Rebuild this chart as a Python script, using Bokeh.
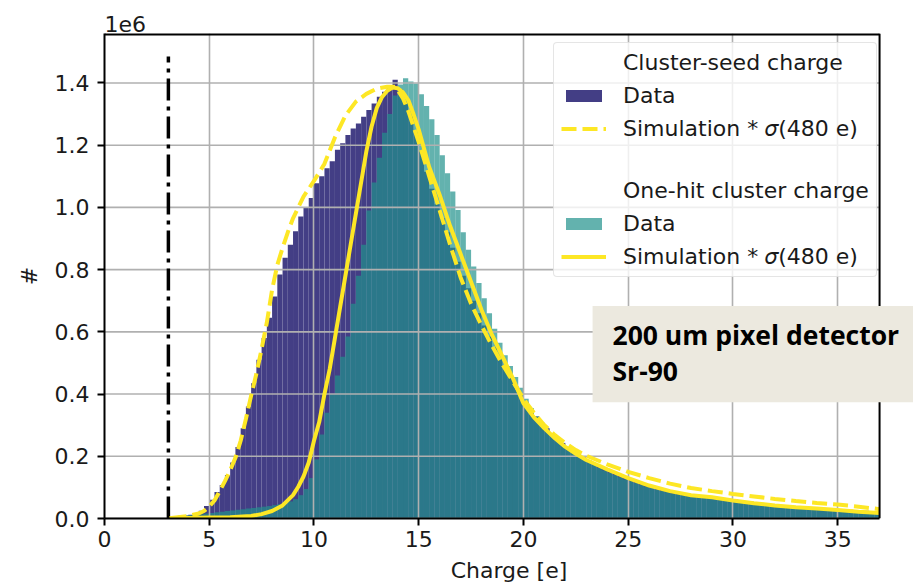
from bokeh.plotting import figure
from bokeh.models import (Range1d, Legend, LegendItem, Label, BoxAnnotation,
                          FixedTicker, PrintfTickFormatter)
from bokeh.embed import file_html
from bokeh.resources import INLINE

# ---- histogram data (counts in units of 1e6, 0.25 e bins starting at 3.0 e) ----
bin_start = 3.0
bin_width = 0.25

seed_counts = [
    0.004, 0.006, 0.008, 0.010, 0.012, 0.016, 0.025, 0.040,   # 3.00 - 4.75
    0.060, 0.085, 0.108, 0.140, 0.180, 0.230, 0.290, 0.360,   # 5.00 - 6.75
    0.435, 0.510, 0.580, 0.645, 0.714, 0.784, 0.838, 0.880,   # 7.00 - 8.75
    0.923, 0.971, 0.998, 1.030, 1.078, 1.100, 1.126, 1.148,   # 9.00 - 10.75
    1.185, 1.206, 1.233, 1.254, 1.270, 1.291, 1.313, 1.334,   # 11.00 - 12.75
    1.356, 1.372, 1.390, 1.410, 1.380, 1.340, 1.295, 1.240,   # 13.00 - 14.75
    1.180, 1.115, 1.060, 1.010, 0.965, 0.920, 0.870, 0.825,   # 15.00 - 16.75
    0.780, 0.740, 0.700, 0.660, 0.620, 0.585, 0.550, 0.515,   # 17.00 - 18.75
    0.485, 0.455, 0.425, 0.400, 0.375, 0.350, 0.328, 0.308,   # 19.00 - 20.75
    0.290, 0.273, 0.257, 0.243, 0.230, 0.218, 0.207, 0.197,   # 21.00 - 22.75
    0.187, 0.178, 0.170, 0.162, 0.154, 0.147, 0.140, 0.133,   # 23.00 - 24.75
    0.127, 0.121, 0.115, 0.110, 0.105, 0.100, 0.096, 0.092,   # 25.00 - 26.75
    0.088, 0.085, 0.082, 0.079, 0.077, 0.075, 0.073, 0.071,   # 27.00 - 28.75
    0.069, 0.067, 0.065, 0.063, 0.061, 0.058, 0.056, 0.054,   # 29.00 - 30.75
    0.052, 0.050, 0.048, 0.046, 0.044, 0.043, 0.041, 0.040,   # 31.00 - 32.75
    0.038, 0.037, 0.036, 0.035, 0.034, 0.033, 0.032, 0.031,   # 33.00 - 34.75
    0.030, 0.029, 0.028, 0.027, 0.026, 0.025, 0.024, 0.023,   # 35.00 - 36.75
]

onehit_counts = [
    0.006, 0.008, 0.009, 0.010, 0.011, 0.012, 0.014, 0.016,   # 3.00 - 4.75
    0.018, 0.020, 0.022, 0.024, 0.026, 0.028, 0.030, 0.032,   # 5.00 - 6.75
    0.034, 0.036, 0.038, 0.040, 0.043, 0.046, 0.050, 0.055,   # 7.00 - 8.75
    0.062, 0.075, 0.095, 0.130, 0.190, 0.270, 0.340, 0.400,   # 9.00 - 10.75
    0.460, 0.520, 0.585, 0.690, 0.780, 0.880, 0.990, 1.080,   # 11.00 - 12.75
    1.160, 1.240, 1.300, 1.360, 1.395, 1.415, 1.405, 1.398,   # 13.00 - 14.75
    1.364, 1.326, 1.283, 1.233, 1.168, 1.110, 1.051, 0.992,   # 15.00 - 16.75
    0.920, 0.864, 0.810, 0.757, 0.708, 0.660, 0.610, 0.565,   # 17.00 - 18.75
    0.525, 0.490, 0.455, 0.420, 0.385, 0.355, 0.328, 0.305,   # 19.00 - 20.75
    0.285, 0.268, 0.252, 0.238, 0.225, 0.213, 0.202, 0.191,   # 21.00 - 22.75
    0.181, 0.172, 0.163, 0.155, 0.147, 0.140, 0.133, 0.126,   # 23.00 - 24.75
    0.120, 0.114, 0.108, 0.103, 0.098, 0.093, 0.089, 0.085,   # 25.00 - 26.75
    0.081, 0.078, 0.075, 0.072, 0.070, 0.068, 0.066, 0.064,   # 27.00 - 28.75
    0.062, 0.060, 0.058, 0.056, 0.054, 0.052, 0.050, 0.048,   # 29.00 - 30.75
    0.046, 0.044, 0.043, 0.041, 0.040, 0.039, 0.037, 0.036,   # 31.00 - 32.75
    0.035, 0.034, 0.033, 0.032, 0.031, 0.030, 0.029, 0.028,   # 33.00 - 34.75
    0.027, 0.026, 0.025, 0.024, 0.023, 0.022, 0.021, 0.020,   # 35.00 - 36.75
]

# ---- simulated spectra, smeared with sigma = 480 e ----
sim_seed_x = [3.2, 4.0, 4.5, 4.75, 5.0, 5.25, 5.5, 5.75, 6.0, 6.25, 6.5, 6.75,
              7.0, 7.25, 7.5, 7.75, 8.0, 8.25, 8.5, 8.75, 9.0, 9.5, 10.0, 10.5,
              11.0, 11.5, 12.0, 12.5, 13.0, 13.5, 13.9, 14.25, 14.5, 14.75,
              15.0, 15.25, 15.5, 16.0, 16.5, 17.0, 17.5, 18.0, 18.5, 19.0,
              19.5, 20.0, 20.5, 21.0, 21.5, 22.0, 22.5, 23.0, 24.0, 25.0,
              26.0, 27.0, 28.0, 29.0, 30.0, 31.0, 32.0, 33.0, 34.0, 35.0,
              36.0, 37.0]
sim_seed_y = [0.002, 0.008, 0.016, 0.024, 0.038, 0.058, 0.088, 0.120, 0.155,
              0.195, 0.250, 0.320, 0.395, 0.465, 0.545, 0.630, 0.735, 0.815,
              0.870, 0.920, 0.965, 1.035, 1.085, 1.140, 1.225, 1.295, 1.340,
              1.365, 1.382, 1.388, 1.388, 1.350, 1.310, 1.260, 1.210, 1.155,
              1.100, 0.990, 0.880, 0.775, 0.690, 0.620, 0.555, 0.495, 0.440,
              0.385, 0.340, 0.300, 0.268, 0.242, 0.220, 0.202, 0.174, 0.150,
              0.130, 0.112, 0.098, 0.088, 0.079, 0.071, 0.063, 0.056, 0.050,
              0.045, 0.038, 0.030]

sim_onehit_x = [3.1, 4.0, 5.0, 6.0, 7.0, 7.5, 8.0, 8.5, 9.0, 9.25, 9.5, 9.75,
                10.0, 10.25, 10.5, 10.75, 11.0, 11.25, 11.5, 11.75, 12.0, 12.25,
                12.5, 12.75, 13.0, 13.25, 13.5, 13.75, 14.0, 14.25, 14.5, 14.75,
                15.0, 15.5, 16.0, 16.5, 17.0, 17.5, 18.0, 18.5, 19.0, 19.5,
                20.0, 20.5, 21.0, 21.5, 22.0, 22.5, 23.0, 24.0, 25.0, 26.0,
                27.0, 28.0, 29.0, 30.0, 31.0, 32.0, 33.0, 34.0, 35.0, 36.0, 37.0]
sim_onehit_y = [0.002, 0.002, 0.003, 0.004, 0.008, 0.014, 0.024, 0.042, 0.075,
                0.102, 0.135, 0.180, 0.250, 0.310, 0.400, 0.480, 0.580, 0.680,
                0.780, 0.880, 0.980, 1.080, 1.180, 1.260, 1.320, 1.355, 1.375,
                1.385, 1.383, 1.370, 1.345, 1.300, 1.250, 1.130, 1.040, 0.940,
                0.850, 0.760, 0.670, 0.590, 0.520, 0.450, 0.370, 0.325, 0.290,
                0.258, 0.230, 0.208, 0.188, 0.158, 0.130, 0.106, 0.088, 0.075,
                0.068, 0.058, 0.049, 0.042, 0.036, 0.032, 0.027, 0.022, 0.018]

threshold = 3.05        # detection threshold [e]
threshold_top = 1.485   # height of the threshold marker (1e6)

x_ticks = [0, 5, 10, 15, 20, 25, 30, 35]
y_ticks = [0.0, 0.2, 0.4, 0.6, 0.8, 1.0, 1.2, 1.4]

X_MIN, X_MAX = 0.0, 37.0      # axes box
Y_MIN, Y_MAX = 0.0, 1.559
X_VIEW = 38.62                # canvas keeps going right of the axes box

FONT = "DejaVu Sans"
FS = "22px"
TEXT = "#1a1a1a"
SEED_COLOR = "#433e85"
ONEHIT_COLOR = "#21918c"
SIM_COLOR = "#fde725"
GRID = "#b0b0b0"

bin_left = [bin_start + i * bin_width for i in range(len(seed_counts))]
bin_right = [b + bin_width for b in bin_left]

p = figure(width=913, height=585, output_backend="svg", toolbar_location=None,
           x_range=Range1d(X_MIN, X_VIEW), y_range=Range1d(Y_MIN, Y_MAX),
           min_border_left=104, min_border_right=0,
           min_border_top=33, min_border_bottom=66)

p.background_fill_color = "white"
p.border_fill_color = "white"
p.outline_line_color = None

# histograms sit below the grid, the simulation curves above it
r_seed = p.quad(left=bin_left, right=bin_right, top=seed_counts, bottom=0,
                fill_color=SEED_COLOR, line_color=None, level="image")
r_onehit = p.quad(left=bin_left, right=bin_right, top=onehit_counts, bottom=0,
                  fill_color=ONEHIT_COLOR, fill_alpha=0.7, line_color=None,
                  level="image")

# horizontal grid limited to the axes box
p.segment(x0=[X_MIN] * len(y_ticks), x1=[X_MAX] * len(y_ticks),
          y0=y_ticks, y1=y_ticks, line_color=GRID, line_width=1.6,
          level="underlay")
p.ygrid.visible = False
p.xgrid.ticker = FixedTicker(ticks=x_ticks)
p.xgrid.grid_line_color = GRID
p.xgrid.grid_line_width = 1.6

p.line([threshold, threshold], [0, threshold_top], line_color="black",
       line_width=3.5, line_dash="22 6 4 6")

r_sim_seed = p.line(sim_seed_x, sim_seed_y, line_color=SIM_COLOR,
                    line_width=4, line_dash="15 6")
r_sim_onehit = p.line(sim_onehit_x, sim_onehit_y, line_color=SIM_COLOR,
                      line_width=4)

# top and right spines of the axes box
p.line([X_MIN, X_MAX], [Y_MAX, Y_MAX], line_color="black", line_width=4)
p.line([X_MAX, X_MAX], [Y_MIN, Y_MAX], line_color="black", line_width=2)

# axes
for ax in (p.xaxis, p.yaxis):
    ax.axis_line_color = "black"
    ax.axis_line_width = 2
    ax.major_tick_line_color = "black"
    ax.major_tick_line_width = 2
    ax.major_tick_out = 7
    ax.major_tick_in = 0
    ax.minor_tick_line_color = None
    ax.major_label_text_font = FONT
    ax.major_label_text_font_size = FS
    ax.major_label_text_color = TEXT
    ax.axis_label_text_font = FONT
    ax.axis_label_text_font_size = FS
    ax.axis_label_text_font_style = "normal"
    ax.axis_label_text_color = TEXT

p.xaxis.bounds = (X_MIN, X_MAX)
p.xaxis.ticker = FixedTicker(ticks=x_ticks)
p.yaxis.ticker = FixedTicker(ticks=y_ticks)
p.yaxis.formatter = PrintfTickFormatter(format="%.1f")
p.xaxis.axis_label = "Charge [e]"
p.yaxis.axis_label = "#"
p.xaxis.major_label_standoff = 5
p.yaxis.major_label_standoff = 8
p.xaxis.axis_label_standoff = 8
p.yaxis.axis_label_standoff = 10

# scale factor of the y axis, shown above the axes box
p.title.text = "1e6"
p.title.align = "left"
p.title.text_font = FONT
p.title.text_font_size = FS
p.title.text_font_style = "normal"
p.title.text_color = TEXT
p.title.standoff = 4

# legend with two grouped blocks
blank1 = p.line([], [], line_alpha=0)
blank2 = p.line([], [], line_alpha=0)
blank3 = p.line([], [], line_alpha=0)
legend = Legend(items=[
    LegendItem(label="Cluster-seed charge", renderers=[blank1]),
    LegendItem(label="Data", renderers=[r_seed]),
    LegendItem(label="Simulation * 𝜎(480 e)", renderers=[r_sim_seed]),
    LegendItem(label=" ", renderers=[blank2]),
    LegendItem(label="One-hit cluster charge", renderers=[blank3]),
    LegendItem(label="Data", renderers=[r_onehit]),
    LegendItem(label="Simulation * 𝜎(480 e)", renderers=[r_sim_onehit]),
], location=(449, 241))
legend.margin = 0
legend.padding = 7
legend.spacing = 8
legend.glyph_width = 45
legend.glyph_height = 15
legend.label_height = 21
legend.label_standoff = 17
legend.label_text_font = FONT
legend.label_text_font_size = FS
legend.label_text_color = TEXT
legend.border_line_color = "#cccccc"
legend.border_line_width = 1.5
legend.border_radius = 4
legend.background_fill_color = "white"
legend.background_fill_alpha = 0.8
p.add_layout(legend)

# detector note
p.add_layout(BoxAnnotation(left=23.3, right=X_VIEW + 0.1, bottom=0.374, top=0.683,
                           fill_color="#ece9df", fill_alpha=1.0, line_color=None,
                           level="overlay"))
for txt, ypos in (("200 um pixel detector", 184), ("Sr-90", 148)):
    p.add_layout(Label(x=508, y=ypos, x_units="screen", y_units="screen",
                       text=txt, text_font="Open Sans", text_font_style="bold",
                       text_font_size="26.5px", text_color="black",
                       text_baseline="alphabetic", level="overlay"))

open("out.html", "w").write(file_html(p, INLINE))
